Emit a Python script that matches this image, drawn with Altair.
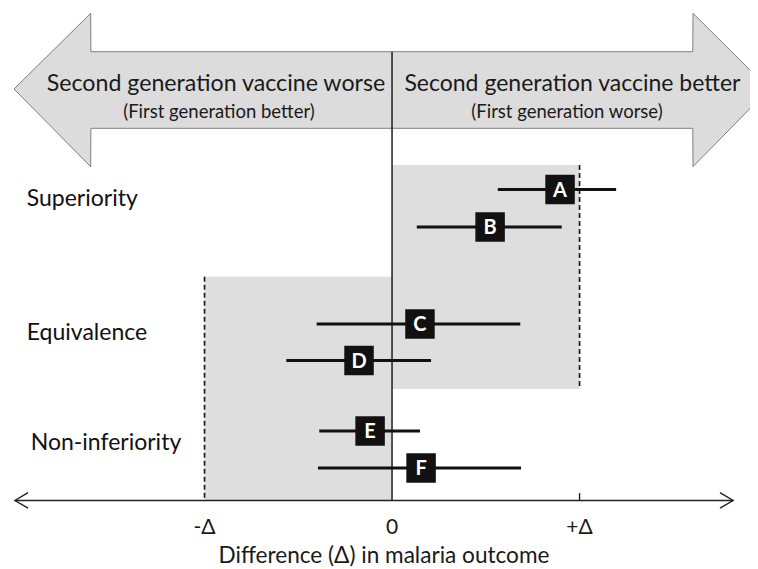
import altair as alt
import pandas as pd

# ---- data (x in units of the margin Δ; vertical positions are layout rows) ----
trials = ["A", "B", "C", "D", "E", "F"]
estimate = [0.896, 0.523, 0.149, -0.176, -0.117, 0.155]
ci_low = [0.564, 0.132, -0.402, -0.564, -0.388, -0.395]
ci_high = [1.195, 0.905, 0.684, 0.208, 0.149, 0.688]
trial_row = [181.5, 219, 316, 352.5, 423, 460]

designs = ["Superiority", "Equivalence", "Non-inferiority"]
design_row = [191, 325, 435]
design_x = [-1.948, -1.948, -1.927]

tick_values = [-1, 0, 1]
tick_labels = ["-Δ", "0", "+Δ"]

# margin regions (x from, x to, row from, row to)
regions_x = [0, -1]
regions_x2 = [1, 0]
regions_y = [157, 268.7]
regions_y2 = [381, 492.5]

# big direction arrow outline (x in Δ units, top/bottom rows)
arrow_x = [-2.016, -1.607, -1.606, 1.604, 1.605, 2.011]
arrow_top = [81, 5.3, 43.7, 43.7, 5.3, 81]
arrow_bot = [81, 158.7, 120.3, 120.3, 158.7, 81]

head_texts = ["Second generation vaccine worse", "(First generation better)",
              "Second generation vaccine better", "(First generation worse)"]
head_x = [-0.939, -0.923, 0.962, 0.933]
head_y = [75.5, 104, 75.5, 104]
head_size = [23.2, 18.5, 23.0, 18.5]

AXIS_ROW = 492.5
axis_x_from, axis_x_to = -2.011, 1.819

FONT = "Lato"
X = alt.Scale(domain=[-2.048, 1.909], nice=False, zero=False)
Y = alt.Scale(domain=[0, 559], reverse=True, nice=False, zero=False)

def xq(f="x"):
    return alt.X(f"{f}:Q", scale=X, axis=None)

def yq(f="y"):
    return alt.Y(f"{f}:Q", scale=Y, axis=None)

# arrow
arrow_df = pd.DataFrame({"x": arrow_x, "y": arrow_top, "y2": arrow_bot})
arrow = alt.Chart(arrow_df).mark_area(
    color="#dcdcdc", stroke="#808080", strokeWidth=1, interpolate="linear"
).encode(x=xq(), y=yq(), y2="y2:Q")

head_df = pd.DataFrame({"t": head_texts, "x": head_x, "y": head_y, "s": head_size})
head_text = alt.Chart(head_df).mark_text(
    font=FONT, color="#1a1a1a", align="center", baseline="middle"
).encode(x=xq(), y=yq(), text="t:N", size=alt.Size("s:Q", scale=None, legend=None))

# shaded margin regions
reg_df = pd.DataFrame({"x": regions_x, "x2": regions_x2, "y": regions_y, "y2": regions_y2})
regions = alt.Chart(reg_df).mark_rect(color="#dedede").encode(
    x=xq(), x2="x2:Q", y=yq(), y2="y2:Q")

dash_df = pd.DataFrame({"x": [1, -1], "y": regions_y, "y2": regions_y2})
dashes = alt.Chart(dash_df).mark_rule(
    color="#111", strokeWidth=1.6, strokeDash=[5, 3]
).encode(x=xq(), y=yq(), y2="y2:Q")

zero_df = pd.DataFrame({"x": [0], "y": [43.7], "y2": [AXIS_ROW]})
zero_line = alt.Chart(zero_df).mark_rule(color="#111", strokeWidth=1.4).encode(
    x=xq(), y=yq(), y2="y2:Q")

# axis line with open arrowheads
axis_df = pd.DataFrame({"x": [axis_x_from], "x2": [axis_x_to], "y": [AXIS_ROW]})
axis_line = alt.Chart(axis_df).mark_rule(color="#222", strokeWidth=1.4).encode(
    x=xq(), x2="x2:Q", y=yq())

chev_df = pd.DataFrame({
    "x": [axis_x_from + 0.07, axis_x_from, axis_x_from + 0.07,
          axis_x_to - 0.07, axis_x_to, axis_x_to - 0.07],
    "y": [484.7, AXIS_ROW, 500.2, 484.7, AXIS_ROW, 500.2],
    "side": ["l", "l", "l", "r", "r", "r"],
    "o": [0, 1, 2, 0, 1, 2],
})
chevrons = alt.Chart(chev_df).mark_line(color="#222", strokeWidth=1.4).encode(
    x=xq(), y=yq(), detail="side:N", order="o:Q")

tick_df = pd.DataFrame({"x": [1], "y": [485], "y2": [AXIS_ROW]})
tick = alt.Chart(tick_df).mark_rule(color="#222", strokeWidth=1.4).encode(
    x=xq(), y=yq(), y2="y2:Q")

tl_df = pd.DataFrame({"x": tick_values, "t": tick_labels, "y": [519.5] * 3})
tick_text = alt.Chart(tl_df).mark_text(
    font=FONT, fontSize=21, color="#1a1a1a", baseline="middle"
).encode(x=xq(), y=yq(), text="t:N")

title_df = pd.DataFrame({"x": [-0.043], "y": [547.5], "t": ["Difference (Δ) in malaria outcome"]})
title = alt.Chart(title_df).mark_text(
    font=FONT, fontSize=22.6, color="#1a1a1a", baseline="middle"
).encode(x=xq(), y=yq(), text="t:N")

des_df = pd.DataFrame({"t": designs, "x": design_x, "y": design_row})
des_text = alt.Chart(des_df).mark_text(
    font=FONT, fontSize=23, color="#111", align="left", baseline="middle"
).encode(x=xq(), y=yq(), text="t:N")

# trials
tr_df = pd.DataFrame({"trial": trials, "est": estimate, "lo": ci_low,
                      "hi": ci_high, "y": trial_row})
ci = alt.Chart(tr_df).mark_rule(color="#111", strokeWidth=3).encode(
    x=xq("lo"), x2="hi:Q", y=yq())
boxes = alt.Chart(tr_df).mark_square(color="#111", opacity=1, size=870).encode(
    x=xq("est"), y=yq())
letters = alt.Chart(tr_df).mark_text(
    font=FONT, fontSize=20, fontWeight="bold", color="white", baseline="middle", dy=1
).encode(x=xq("est"), y=yq(), text="trial:N")

chart = alt.layer(
    arrow, regions, dashes, zero_line, head_text, axis_line, chevrons, tick,
    tick_text, title, des_text, ci, boxes, letters
).properties(
    width=742, height=559, padding=0, autosize=alt.AutoSizeParams(type="none")
).configure_view(stroke=None)

chart.save("out.html", embed_options={"renderer": "svg", "actions": False})
